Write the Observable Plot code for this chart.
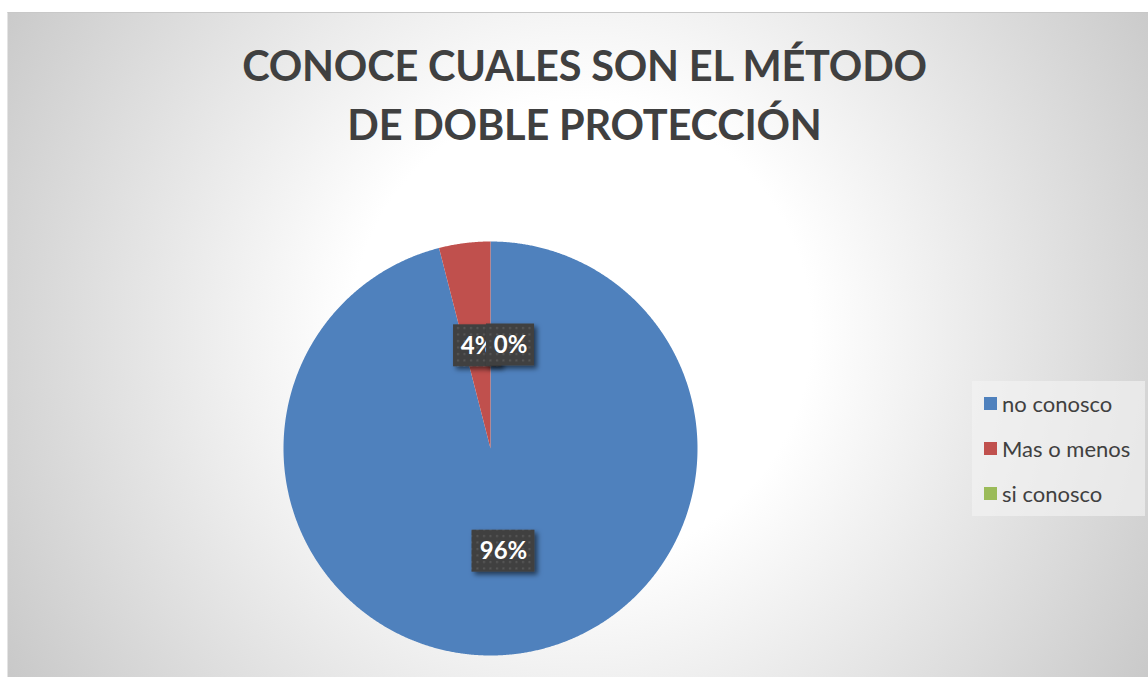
<!DOCTYPE html>
<html>
<head>
<meta charset="utf-8">
<script src="https://cdn.jsdelivr.net/npm/d3@7"></script>
<script src="https://cdn.jsdelivr.net/npm/@observablehq/plot@0.6"></script>
<style>
html, body { margin: 0; padding: 0; background: #fff; }
#wrap { position: relative; width: 1148px; height: 677px; overflow: hidden; background: #fff; font-family: Lato, "Open Sans", sans-serif; }
#bg { position: absolute; left: 7px; top: 12px; width: 1141px; height: 665px; box-sizing: border-box;
      border-left: 1px solid #e4e4e4; border-top: 1px solid #c8c8c8;
      background: radial-gradient(circle at 573px 318px, #ffffff 0px, #ffffff 230px, #c6c6c6 690px); }
#chart { position: absolute; left: 0; top: 0; }
#title { position: absolute; left: 0; width: 1169px; top: 36px; text-align: center; color: #404040;
         font-weight: 700; font-size: 41.5px; line-height: 59px; letter-spacing: -0.2px; }
#legend { position: absolute; left: 972px; top: 381px; width: 173px; height: 135px; background: rgba(242,242,242,0.65); }
.li { position: absolute; left: 12px; height: 26px; display: flex; align-items: center; color: #404040; font-size: 22px; }
.sw { width: 13px; height: 13px; margin-right: 5px; flex: none; }
</style>
</head>
<body>
<div id="wrap">
  <div id="bg"></div>
  <div id="chart"></div>
  <div id="title"></div>
  <div id="legend"></div>
</div>
<script>
// ---- data ----
const titleLines = ["CONOCE CUALES SON EL MÉTODO", "DE DOBLE PROTECCIÓN"];
const categories = ["no conosco", "Mas o menos", "si conosco"];
const values = [96, 4, 0];
const labels = ["96%", "4%", "0%"];
const colors = ["#4f81bd", "#c0504d", "#9bbb59"];

// ---- layout ----
const W = 1148, H = 677;
const cx = 490, cy = 448, R = 207;

const rows = categories.map((c, i) => ({cat: c, value: values[i], label: labels[i]}));
const arcs = d3.pie().sort(null).value(d => d.value)(rows);

// slice polygons in unit-circle space
const piePts = arcs.flatMap(a => {
  const n = Math.max(2, Math.ceil((a.endAngle - a.startAngle) / 0.005));
  const pts = [{cat: a.data.cat, x: 0, y: 0}];
  for (let i = 0; i <= n; i++) {
    const t = a.startAngle + (a.endAngle - a.startAngle) * i / n;
    pts.push({cat: a.data.cat, x: Math.sin(t), y: -Math.cos(t)});
  }
  return pts;
});

// label boxes at half radius, with simple collision nudging
const boxH = 42;
const boxes = [];
arcs.forEach(a => {
  const mid = (a.startAngle + a.endAngle) / 2;
  const w = 15 * a.data.label.length + 18;
  let px = cx + 0.5 * R * Math.sin(mid);
  const py = cy - 0.5 * R * Math.cos(mid);
  for (const b of boxes) {
    const overlapY = Math.abs(b.py - py) < boxH;
    const overlapX = Math.abs(b.px - px) < (b.w + w) / 2;
    if (overlapY && overlapX) {
      px = (b.px + b.w / 2 - 15) + w / 2;
    }
  }
  boxes.push({label: a.data.label, px, py, w});
});
const toX = p => (p - cx) / R;
const toY = p => (p - cy) / R;
const boxData = boxes.map(b => ({
  label: b.label,
  x1: toX(b.px - b.w / 2), x2: toX(b.px + b.w / 2),
  y1: toY(b.py - boxH / 2), y2: toY(b.py + boxH / 2),
  x: toX(b.px), y: toY(b.py)
}));

const labelMarks = boxData.flatMap(d => [
  Plot.rect([d], {x1: "x1", x2: "x2", y1: "y1", y2: "y2", fill: "url(#dots)"}),
  Plot.text([d], {x: "x", y: "y", text: "label", fill: "#ffffff", fontSize: 24, fontWeight: 700,
                  fontFamily: "Lato, 'Open Sans', sans-serif", textAnchor: "middle", lineAnchor: "middle"})
]);

const svg = Plot.plot({
  width: W, height: H, margin: 0,
  style: {background: "transparent", overflow: "visible"},
  x: {domain: [-1, 1], range: [cx - R, cx + R], axis: null},
  y: {domain: [-1, 1], range: [cy - R, cy + R], axis: null},
  color: {domain: categories, range: colors},
  marks: [
    Plot.line(piePts, {x: "x", y: "y", z: "cat", fill: "cat", stroke: "none", curve: "linear-closed"}),
    ...labelMarks
  ]
});

const s = d3.select(svg);
const defs = s.insert("defs", ":first-child");
const pat = defs.append("pattern").attr("id", "dots").attr("patternUnits", "userSpaceOnUse")
  .attr("width", 6.5).attr("height", 6.5);
pat.append("rect").attr("width", 6.5).attr("height", 6.5).attr("fill", "#404040");
pat.append("rect").attr("x", 2).attr("y", 2).attr("width", 2).attr("height", 2).attr("fill", "#585858");
const f = defs.append("filter").attr("id", "shadow").attr("x", "-30%").attr("y", "-30%").attr("width", "160%").attr("height", "160%");
f.append("feDropShadow").attr("dx", 3).attr("dy", 3).attr("stdDeviation", 2.5)
  .attr("flood-color", "#000").attr("flood-opacity", 0.55);
s.selectAll('g[aria-label="rect"]').attr("filter", "url(#shadow)");

document.getElementById("chart").appendChild(svg);

// title
const t = document.getElementById("title");
titleLines.forEach(l => { const d = document.createElement("div"); d.textContent = l; t.appendChild(d); });

// legend
const lg = document.getElementById("legend");
categories.forEach((c, i) => {
  const it = document.createElement("div");
  it.className = "li";
  it.style.top = (9 + i * 45) + "px";
  const sw = document.createElement("span"); sw.className = "sw"; sw.style.background = colors[i];
  const tx = document.createElement("span"); tx.textContent = c;
  it.appendChild(sw); it.appendChild(tx);
  lg.appendChild(it);
});
</script>
</body>
</html>
